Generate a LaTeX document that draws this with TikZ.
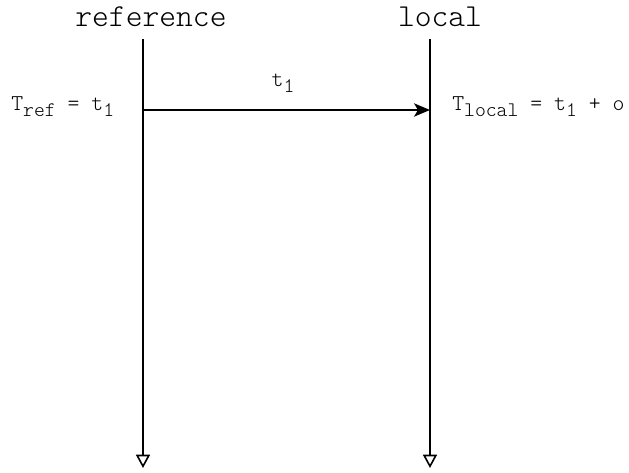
\documentclass[tikz,border=0pt]{standalone}
\usepackage{fontspec}
\newfontfamily\seqfont{lmmonolt10-regular.otf}
\usetikzlibrary{arrows.meta}

% lowered index inside the time labels
\newcommand{\lsub}[1]{\raisebox{-4pt}{\fontsize{15.5}{17}\selectfont #1}}

\begin{document}
\begin{tikzpicture}[x=0.75pt, y=-0.75pt,
  lifeline/.style={line width=1.2pt, -{Triangle[open, length=10pt, width=10.5pt]}},
  msg/.style={line width=1.2pt, -{Stealth[length=12pt, width=10pt, inset=3pt]}},
  head/.style={font=\seqfont\fontsize{24}{27}\selectfont, inner sep=0pt, anchor=base},
  lbl/.style={font=\seqfont\fontsize{17}{19}\selectfont, inner sep=0pt}]
\useasboundingbox (0,0) rectangle (629,473);

  % the two clocks
  \node[head] (refhead) at (151,27) {reference};
  \node[head] (lochead) at (440,27) {local};

  \coordinate (reftop) at (143,39);
  \coordinate (refbot) at (143,468);
  \coordinate (loctop) at (430,39);
  \coordinate (locbot) at (430,468);

  \draw[lifeline] (reftop) -- (refbot);
  \draw[lifeline] (loctop) -- (locbot);

  % message sent at t1
  \coordinate (refmsg) at (143,110);
  \coordinate (locmsg) at (430,110);
  \draw[msg] (refmsg) -- (locmsg);

  \node[lbl, anchor=base] (msglbl) at (283,87) {t\lsub{1}};
  \node[lbl, anchor=base west] (reftime) at (11,111) {T\lsub{ref} = t\lsub{1}};
  \node[lbl, anchor=base west] (loctime) at (452,111) {T\lsub{local} = t\lsub{1} + o};
\end{tikzpicture}
\end{document}
